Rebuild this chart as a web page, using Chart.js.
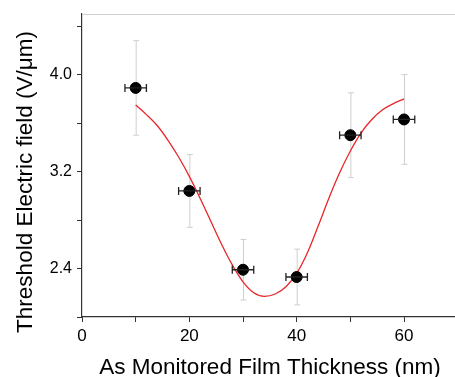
<!DOCTYPE html>
<html>
<head>
<meta charset="utf-8">
<script src="https://cdn.jsdelivr.net/npm/chart.js@4.4.0/dist/chart.umd.min.js"></script>
<style>
  html, body { margin: 0; padding: 0; background: #fff; }
  #wrap { width: 455px; height: 377px; }
</style>
</head>
<body>
<div id="wrap"><canvas id="fieldChart" width="455" height="377"></canvas></div>
<script>
// measured points (film thickness in nm, threshold field in V/um)
var thickness = [10, 20, 30, 40, 50, 60];
var field = [3.89, 3.04, 2.39, 2.33, 3.50, 3.63];
var fieldErr = [0.39, 0.30, 0.25, 0.23, 0.35, 0.37];
var thicknessErr = [2, 2, 2, 2, 2, 2];

// fitted curve
var fitX = [10, 12, 14, 16, 18, 20, 22, 24, 26, 28, 30, 32, 34, 36, 38, 40, 42, 44, 46, 48, 50, 52, 54, 56, 58, 60];
var fitY = [3.75, 3.67, 3.58, 3.46, 3.32, 3.16, 2.98, 2.79, 2.60, 2.43, 2.29, 2.20, 2.17, 2.19, 2.25, 2.36, 2.53, 2.75, 2.98, 3.19, 3.37, 3.52, 3.63, 3.71, 3.76, 3.80];

// tick labels
var xTickLabels = ['0', '20', '40', '60'];
var yTickLabels = ['2.4', '3.2', '4.0'];

var xTitle = 'As Monitored Film Thickness (nm)';
var yTitle = 'Threshold Electric field (V/\u03bcm)';

var fontFamily = '"Liberation Sans", Arial, Helvetica, sans-serif';

// error bars: grey vertical, dark horizontal, with caps
var errorBars = {
  id: 'errorBars',
  beforeDatasetsDraw: function(chart) {
    const ctx = chart.ctx;
    const xs = chart.scales.x;
    const ys = chart.scales.y;
    ctx.save();
    ctx.lineWidth = 1;
    for (let i = 0; i < thickness.length; i++) {
      let px = xs.getPixelForValue(thickness[i]);
      let top = ys.getPixelForValue(field[i] + fieldErr[i]);
      let bot = ys.getPixelForValue(field[i] - fieldErr[i]);
      ctx.strokeStyle = '#cfcfcf';
      ctx.beginPath();
      ctx.moveTo(px + 0.5, top); ctx.lineTo(px + 0.5, bot);
      ctx.moveTo(px - 2.5, top); ctx.lineTo(px + 3.5, top);
      ctx.moveTo(px - 2.5, bot); ctx.lineTo(px + 3.5, bot);
      ctx.stroke();
    }
    ctx.restore();
  },
  afterDatasetsDraw: function(chart) {
    const ctx = chart.ctx;
    const xs = chart.scales.x;
    const ys = chart.scales.y;
    ctx.save();
    ctx.lineWidth = 1.3;
    ctx.strokeStyle = '#222';
    for (let i = 0; i < thickness.length; i++) {
      let py = ys.getPixelForValue(field[i]);
      let l = xs.getPixelForValue(thickness[i] - thicknessErr[i]);
      let r = xs.getPixelForValue(thickness[i] + thicknessErr[i]);
      ctx.beginPath();
      ctx.moveTo(l, py); ctx.lineTo(r, py);
      ctx.moveTo(l, py - 4); ctx.lineTo(l, py + 4);
      ctx.moveTo(r, py - 4); ctx.lineTo(r, py + 4);
      ctx.stroke();
    }
    ctx.restore();
  }
};

// top frame line and axis titles
var frameAndTitles = {
  id: 'frameAndTitles',
  afterDraw: function(chart) {
    const ctx = chart.ctx;
    const area = chart.chartArea;
    ctx.save();
    ctx.strokeStyle = '#d0d0d0';
    ctx.lineWidth = 1;
    ctx.beginPath();
    ctx.moveTo(area.left, area.top + 0.5);
    ctx.lineTo(area.right, area.top + 0.5);
    ctx.stroke();

    ctx.fillStyle = '#000';
    ctx.font = '22.5px ' + fontFamily;
    ctx.textAlign = 'center';
    ctx.textBaseline = 'alphabetic';
    ctx.fillText(xTitle, 270, 374);

    ctx.translate(32, 182);
    ctx.rotate(-Math.PI / 2);
    ctx.fillText(yTitle, 0, 0);
    ctx.restore();
  }
};

var ctx = document.getElementById('fieldChart').getContext('2d');
var fieldChart = new Chart(ctx, {
  type: 'scatter',
  data: {
    datasets: [{
      label: 'fit',
      data: fitX.map((x, i) => ({ x: x, y: fitY[i] })),
      showLine: true,
      borderColor: '#e8262a',
      borderWidth: 1.3,
      pointRadius: 0,
      cubicInterpolationMode: 'monotone',
      order: 2
    }, {
      label: 'measured',
      data: thickness.map((x, i) => ({ x: x, y: field[i] })),
      backgroundColor: '#000',
      borderColor: '#000',
      pointRadius: 5.5,
      order: 1
    }]
  },
  plugins: [errorBars, frameAndTitles],
  options: {
    responsive: false,
    animation: false,
    events: [],
    layout: { autoPadding: false, padding: { top: 14, right: 0, left: 0, bottom: 0 } },
    plugins: {
      legend: { display: false },
      tooltip: { enabled: false }
    },
    scales: {
      x: {
        type: 'linear',
        min: 0,
        max: 69.5,
        afterFit: function(scale) {
          scale.height = 60;
          scale.paddingLeft = 0;
          scale.paddingRight = 0;
        },
        border: { color: '#333', width: 1.2 },
        grid: { drawOnChartArea: false, drawTicks: true, tickLength: 5, color: '#333' },
        ticks: {
          stepSize: 10,
          includeBounds: false,
          padding: 4,
          color: '#000',
          font: { family: fontFamily, size: 17 },
          maxRotation: 0,
          autoSkip: false,
          callback: function(value) {
            let s = String(Math.round(value));
            return xTickLabels.indexOf(s) >= 0 ? s : '';
          }
        }
      },
      y: {
        type: 'linear',
        min: 2.0,
        max: 4.5,
        afterFit: function(scale) {
          scale.width = 82;
          scale.paddingTop = 0;
          scale.paddingBottom = 0;
        },
        border: { color: '#333', width: 1.2 },
        grid: { drawOnChartArea: false, drawTicks: true, tickLength: 5, color: '#333' },
        ticks: {
          stepSize: 0.4,
          includeBounds: false,
          padding: 5,
          color: '#000',
          font: { family: fontFamily, size: 16 },
          autoSkip: false,
          callback: function(value) {
            let s = value.toFixed(1);
            return yTickLabels.indexOf(s) >= 0 ? s : '';
          }
        }
      }
    }
  }
});
</script>
</body>
</html>
